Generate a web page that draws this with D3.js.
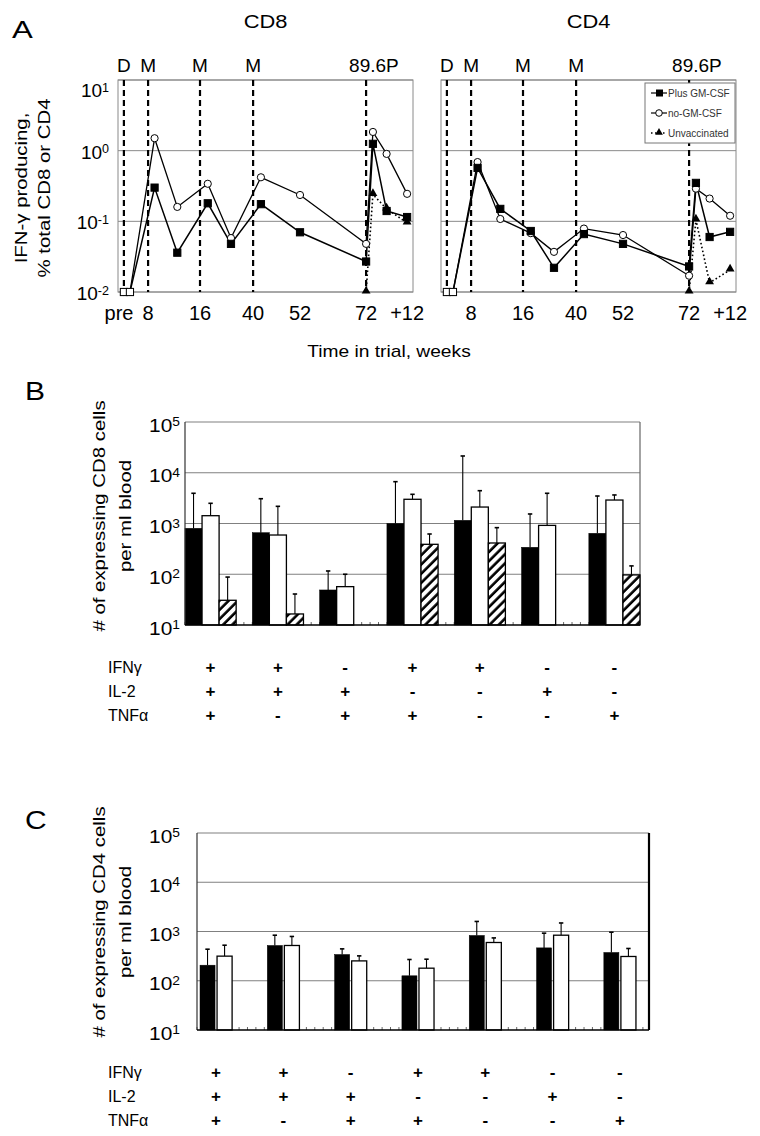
<!DOCTYPE html>
<html><head><meta charset="utf-8">
<script src="https://cdn.jsdelivr.net/npm/d3@7/dist/d3.min.js"></script>
<style>
body{margin:0;background:#fff}
svg{display:block}
text{font-family:"Liberation Sans",Arial,sans-serif;fill:#000}
</style>
</head><body>
<svg id="chart" width="760" height="1136"></svg>
<script>
// ================= DATA =================
// Panel A: x positions in trial weeks (post-challenge weeks continue after 72)
const weeksA = [0, 2, 9, 12.5, 19.5, 30, 42, 52, 72, 74, 78, 84];
const weeksUnvac = [72, 74, 78, 84];
const cd8Plus  = [0.01, 0.01, 0.30, 0.036, 0.18, 0.048, 0.175, 0.07, 0.027, 1.25, 0.14, 0.115];
const cd8NoGM  = [0.01, 0.01, 1.5, 0.16, 0.34, 0.058, 0.42, 0.236, 0.048, 1.84, 0.9, 0.245];
const cd8Unvac = [0.01, 0.24, 0.15, 0.095];
const cd4Plus  = [0.01, 0.01, 0.57, 0.15, 0.073, 0.022, 0.066, 0.048, 0.023, 0.35, 0.060, 0.071];
const cd4NoGM  = [0.01, 0.01, 0.69, 0.108, 0.068, 0.037, 0.079, 0.064, 0.017, 0.29, 0.21, 0.12];
const cd4Unvac = [0.01, 0.105, 0.0135, 0.0205];
const vaccineWeeks  = [0, 8, 16, 40, 72];
const vaccineLabels = ["D", "M", "M", "M", "89.6P"];
const timeTickWeeks  = [-2, 8, 16, 40, 52, 72, 84];
const timeTickLabels = ["pre", "8", "16", "40", "52", "72", "+12"];
const logTicksA = [0.01, 0.1, 1, 10];
const legendLabels = ["Plus GM-CSF", "no-GM-CSF", "Unvaccinated"];

// Panels B & C: cytokine combinations
const cytokines = ["IFNγ", "IL-2", "TNFα"];
const ifngSign = ["+", "+", "-", "+", "+", "-", "-"];
const il2Sign  = ["+", "+", "+", "-", "-", "+", "-"];
const tnfaSign = ["+", "-", "+", "+", "-", "-", "+"];
const logTicksBC = [10, 100, 1000, 10000, 100000];
// CD8 (panel B): mean values and top of error bar
const bPlus     = [804, 659, 49, 1000, 1155, 340, 641];
const bPlusErr  = [3940, 3080, 116, 6670, 21400, 1540, 3480];
const bNoGM     = [1425, 593, 57, 3000, 2110, 918, 2900];
const bNoGMErr  = [2500, 2180, 100, 3760, 4430, 3940, 3650];
const bUnvac    = [30.7, 16.5, null, 389, 413, null, 97];
const bUnvacErr = [88, 40.8, null, 621, 828, null, 146];
// CD4 (panel C)
const cPlus    = [207, 520, 341, 126, 830, 465, 375];
const cPlusErr = [437, 841, 444, 270, 1600, 925, 968];
const cNoGM    = [316, 520, 253, 180, 598, 841, 311];
const cNoGMErr = [527, 793, 320, 274, 741, 1490, 452];

// ================= HELPERS =================
const svg = d3.select("#chart");
const defs = svg.append("defs");
const pat = defs.append("pattern").attr("id", "hatch").attr("patternUnits", "userSpaceOnUse")
  .attr("width", 6.5).attr("height", 6.5).attr("patternTransform", "rotate(45)");
pat.append("rect").attr("width", 6.5).attr("height", 6.5).attr("fill", "#fff");
pat.append("line").attr("x1", 1.5).attr("y1", 0).attr("x2", 1.5).attr("y2", 6.5)
  .attr("stroke", "#000").attr("stroke-width", 2.6);

function T(parent, x, y, str, o = {}) {
  let tr = `translate(${x},${y})`;
  if (o.rot) tr += ` rotate(${o.rot})`;
  if (o.sx) tr += ` scale(${o.sx},1)`;
  const g = parent.append("g").attr("transform", tr);
  const t = g.append("text").attr("text-anchor", o.anchor || "start")
    .style("font-size", (o.size || 16) + "px");
  if (o.weight) t.style("font-weight", o.weight);
  if (o.fill) t.style("fill", o.fill);
  t.text(str);
  return t;
}
function powLabel(parent, x, y, v, o) {
  const t = T(parent, x, y, "10", o);
  t.append("tspan").attr("dy", "-0.42em").style("font-size", "0.66em")
    .text(String(Math.round(Math.log10(v))));
}

// ================= PANEL A =================
const topA = 80, botA = 292;
const yA = d3.scaleLog().domain([0.01, 10]).range([botA, topA]);

function timeScale(x0, x1) {
  const fr = [0, 0.02, 0.102, 0.278, 0.458, 0.617, 0.841, 0.98, 1];
  return d3.scaleLinear().domain([-2, 0, 8, 16, 40, 52, 72, 84, 86])
    .range(fr.map(f => x0 + f * (x1 - x0)));
}

function drawA(x0, x1, title, plus, nogm, unvac, first) {
  const g = svg.append("g");
  const x = timeScale(x0, x1);
  // gridlines and frame
  logTicksA.forEach(t => {
    g.append("line").attr("x1", x0).attr("x2", x1).attr("y1", yA(t)).attr("y2", yA(t))
      .attr("stroke", "#8a8a8a").attr("stroke-width", 1);
  });
  g.append("rect").attr("x", x0).attr("y", topA).attr("width", x1 - x0).attr("height", botA - topA)
    .attr("fill", "none").attr("stroke", "#8a8a8a").attr("stroke-width", 1);
  // tick labels (left plot only)
  if (first) {
    logTicksA.forEach((t, i) => {
      const yy = i === logTicksA.length - 1 ? yA(t) + 17 : yA(t) + 8;
      powLabel(g, x0 - 9, yy, t, { anchor: "end", size: 19 });
    });
  }
  timeTickWeeks.forEach((w, i) => {
    if (i === 0 && !first) return;
    T(g, x(w) + (i === 0 ? 1 : 0), 320, timeTickLabels[i], { anchor: "middle", size: 20 });
  });
  // vaccination lines
  vaccineWeeks.forEach((w, i) => {
    g.append("line").attr("x1", x(w)).attr("x2", x(w)).attr("y1", topA).attr("y2", botA)
      .attr("stroke", "#000").attr("stroke-width", 2.2).attr("stroke-dasharray", "6,4");
    const lab = vaccineLabels[i];
    if (lab.length > 1) T(g, x(w) - 17, 72, lab, { anchor: "start", size: 19 });
    else T(g, x(w), 72, lab, { anchor: "middle", size: 19 });
  });
  T(g, (x0 + x1) / 2, 28, title, { anchor: "middle", size: 19, sx: 1.15 });

  const line = d3.line().x(d => x(d[0])).y(d => yA(d[1]));
  const dN = weeksA.map((w, i) => [w, nogm[i]]);
  const dP = weeksA.map((w, i) => [w, plus[i]]);
  const dU = weeksUnvac.map((w, i) => [w, unvac[i]]);
  g.append("path").attr("d", line(dN)).attr("fill", "none").attr("stroke", "#000").attr("stroke-width", 1.3);
  g.append("path").attr("d", line(dP)).attr("fill", "none").attr("stroke", "#000").attr("stroke-width", 1.5);
  g.append("path").attr("d", line(dU)).attr("fill", "none").attr("stroke", "#000").attr("stroke-width", 1.6)
    .attr("stroke-dasharray", "1.6,2.4");
  g.selectAll(".tri").data(dU).join("path")
    .attr("transform", d => `translate(${x(d[0])},${yA(d[1]) - 1})`)
    .attr("d", d3.symbol(d3.symbolTriangle, 34)).attr("fill", "#000");
  g.selectAll(".cir").data(dN).join("circle")
    .attr("cx", d => x(d[0])).attr("cy", d => yA(d[1])).attr("r", 3.6)
    .attr("fill", "#fff").attr("stroke", "#000").attr("stroke-width", 1);
  g.selectAll(".sq").data(dP).join("rect")
    .attr("x", d => x(d[0]) - 3.6).attr("y", d => yA(d[1]) - 3.6).attr("width", 7.2).attr("height", 7.2)
    .attr("fill", d => d[1] <= 0.01 ? "#fff" : "#000").attr("stroke", "#000").attr("stroke-width", 1);

  if (!first) {
    const lx = 645, ly = 83, lw = 90, lh = 60;
    const lg = g.append("g");
    lg.append("rect").attr("x", lx).attr("y", ly).attr("width", lw).attr("height", lh)
      .attr("fill", "#fff").attr("stroke", "#777").attr("stroke-width", 1);
    legendLabels.forEach((lab, i) => {
      const yy = ly + 10 + i * 20;
      const ln = lg.append("line").attr("x1", lx + 6).attr("x2", lx + 22).attr("y1", yy).attr("y2", yy)
        .attr("stroke", "#000").attr("stroke-width", 1.2);
      if (i === 0) lg.append("rect").attr("x", lx + 11).attr("y", yy - 3.5).attr("width", 7).attr("height", 7).attr("fill", "#000");
      if (i === 1) lg.append("circle").attr("cx", lx + 14).attr("cy", yy).attr("r", 3.3).attr("fill", "#fff").attr("stroke", "#000");
      if (i === 2) {
        ln.attr("stroke-dasharray", "1.5,2.5").attr("stroke-width", 1.5);
        lg.append("path").attr("transform", `translate(${lx + 14},${yy - 0.5})`)
          .attr("d", d3.symbol(d3.symbolTriangle, 26)).attr("fill", "#000");
      }
      T(lg, lx + 23, yy + 3.5, lab, { size: 10, fill: "#333" });
    });
  }
}

T(svg, 12, 38, "A", { size: 24, sx: 1.3 });
drawA(118, 413, "CD8", cd8Plus, cd8NoGM, cd8Unvac, true);
drawA(441, 736, "CD4", cd4Plus, cd4NoGM, cd4Unvac, false);
T(svg, 27, 188, "IFN-γ producing,", { rot: -90, anchor: "middle", size: 17, sx: 1.2 });
T(svg, 50, 188, "% total CD8 or CD4", { rot: -90, anchor: "middle", size: 17, sx: 1.2 });
T(svg, 389, 357, "Time in trial, weeks", { anchor: "middle", size: 16, sx: 1.2 });

// ================= PANELS B & C =================
function drawBars(o) {
  const g = svg.append("g");
  const { x0, x1, top, bot, series, tickGap, rightStyle } = o;
  const y = d3.scaleLog().domain([10, 100000]).range([bot, top]);
  const gx = d3.scaleBand().domain(d3.range(7)).range([x0 + o.bandShift, x0 + o.bandShift + 455])
    .paddingInner(0.24).paddingOuter(0);
  const sx = d3.scaleBand().domain([0, 1, 2]).range([0, gx.bandwidth()]);
  // gridlines
  logTicksBC.slice(1).forEach(t => {
    g.append("line").attr("x1", x0).attr("x2", x1).attr("y1", y(t)).attr("y2", y(t))
      .attr("stroke", "#808080").attr("stroke-width", 1.1);
  });
  // right edge
  g.append("line").attr("x1", x1).attr("x2", x1).attr("y1", top).attr("y2", bot)
    .attr("stroke", rightStyle.c).attr("stroke-width", rightStyle.w);
  // minor ticks on x axis
  const step = gx.step() / 8;
  d3.range(x0, x1 + 0.1, step).forEach(v => {
    g.append("line").attr("x1", v).attr("x2", v).attr("y1", bot).attr("y2", bot - 3)
      .attr("stroke", "#666").attr("stroke-width", 1);
  });
  // y tick labels
  logTicksBC.forEach(t => powLabel(g, x0 - tickGap, y(t) + 9.5, t, { anchor: "end", size: 19, sx: 1.1 }));
  // bars
  const fills = ["#000", "#fff", "url(#hatch)"];
  series.forEach((s, si) => {
    s.vals.forEach((v, i) => {
      if (v == null) return;
      const bx = gx(i) + sx(si) + o.barInset;
      const bw = sx.bandwidth() - 2 * o.barInset;
      const cx = bx + bw / 2;
      g.append("line").attr("x1", cx).attr("x2", cx).attr("y1", y(v)).attr("y2", y(s.err[i]))
        .attr("stroke", "#000").attr("stroke-width", 1.1);
      g.append("line").attr("x1", cx - 2.2).attr("x2", cx + 2.2).attr("y1", y(s.err[i])).attr("y2", y(s.err[i]))
        .attr("stroke", "#000").attr("stroke-width", 1.6);
      g.append("rect").attr("x", bx).attr("y", y(v)).attr("width", bw).attr("height", bot - y(v))
        .attr("fill", fills[si]).attr("stroke", "#000").attr("stroke-width", si === 0 ? 0.5 : 1.3);
    });
  });
  // axes
  g.append("line").attr("x1", x0).attr("x2", x0).attr("y1", top).attr("y2", bot).attr("stroke", "#333").attr("stroke-width", 1.2);
  g.append("line").attr("x1", x0).attr("x2", x1).attr("y1", bot).attr("y2", bot).attr("stroke", "#000").attr("stroke-width", 1.5);
  // table
  const rows = [ifngSign, il2Sign, tnfaSign];
  cytokines.forEach((c, ri) => {
    const yy = o.tableY + ri * o.rowGap;
    T(g, 108, yy, c, { size: 16 });
    rows[ri].forEach((s, i) => {
      const cx = gx(i) + sx.bandwidth() * series.length / 2;
      T(g, cx, yy, s, { anchor: "middle", size: 17, weight: "bold" });
    });
  });
  // y label
  const cy = o.labelY;
  T(svg, 105, cy, o.ylab1, { rot: -90, anchor: "middle", size: 17, sx: 1.2 });
  T(svg, 131, cy, "per ml blood", { rot: -90, anchor: "middle", size: 17, sx: 1.2 });
}

T(svg, 25, 400, "B", { size: 25, sx: 1.2 });
drawBars({
  x0: 185, x1: 640, top: 422, bot: 625, bandShift: 0, barInset: 0, tickGap: 5,
  rightStyle: { c: "#666", w: 1.2 },
  series: [{ vals: bPlus, err: bPlusErr }, { vals: bNoGM, err: bNoGMErr }, { vals: bUnvac, err: bUnvacErr }],
  tableY: 673, rowGap: 24, labelY: 516, ylab1: "# of expressing CD8 cells"
});
T(svg, 25, 829, "C", { size: 25, sx: 1.2 });
drawBars({
  x0: 197, x1: 649, top: 833, bot: 1030, bandShift: 2, barInset: 1, tickGap: 17,
  rightStyle: { c: "#000", w: 2.2 },
  series: [{ vals: cPlus, err: cPlusErr }, { vals: cNoGM, err: cNoGMErr }],
  tableY: 1078, rowGap: 24, labelY: 922, ylab1: "# of expressing CD4 cells"
});
</script>
</body></html>
